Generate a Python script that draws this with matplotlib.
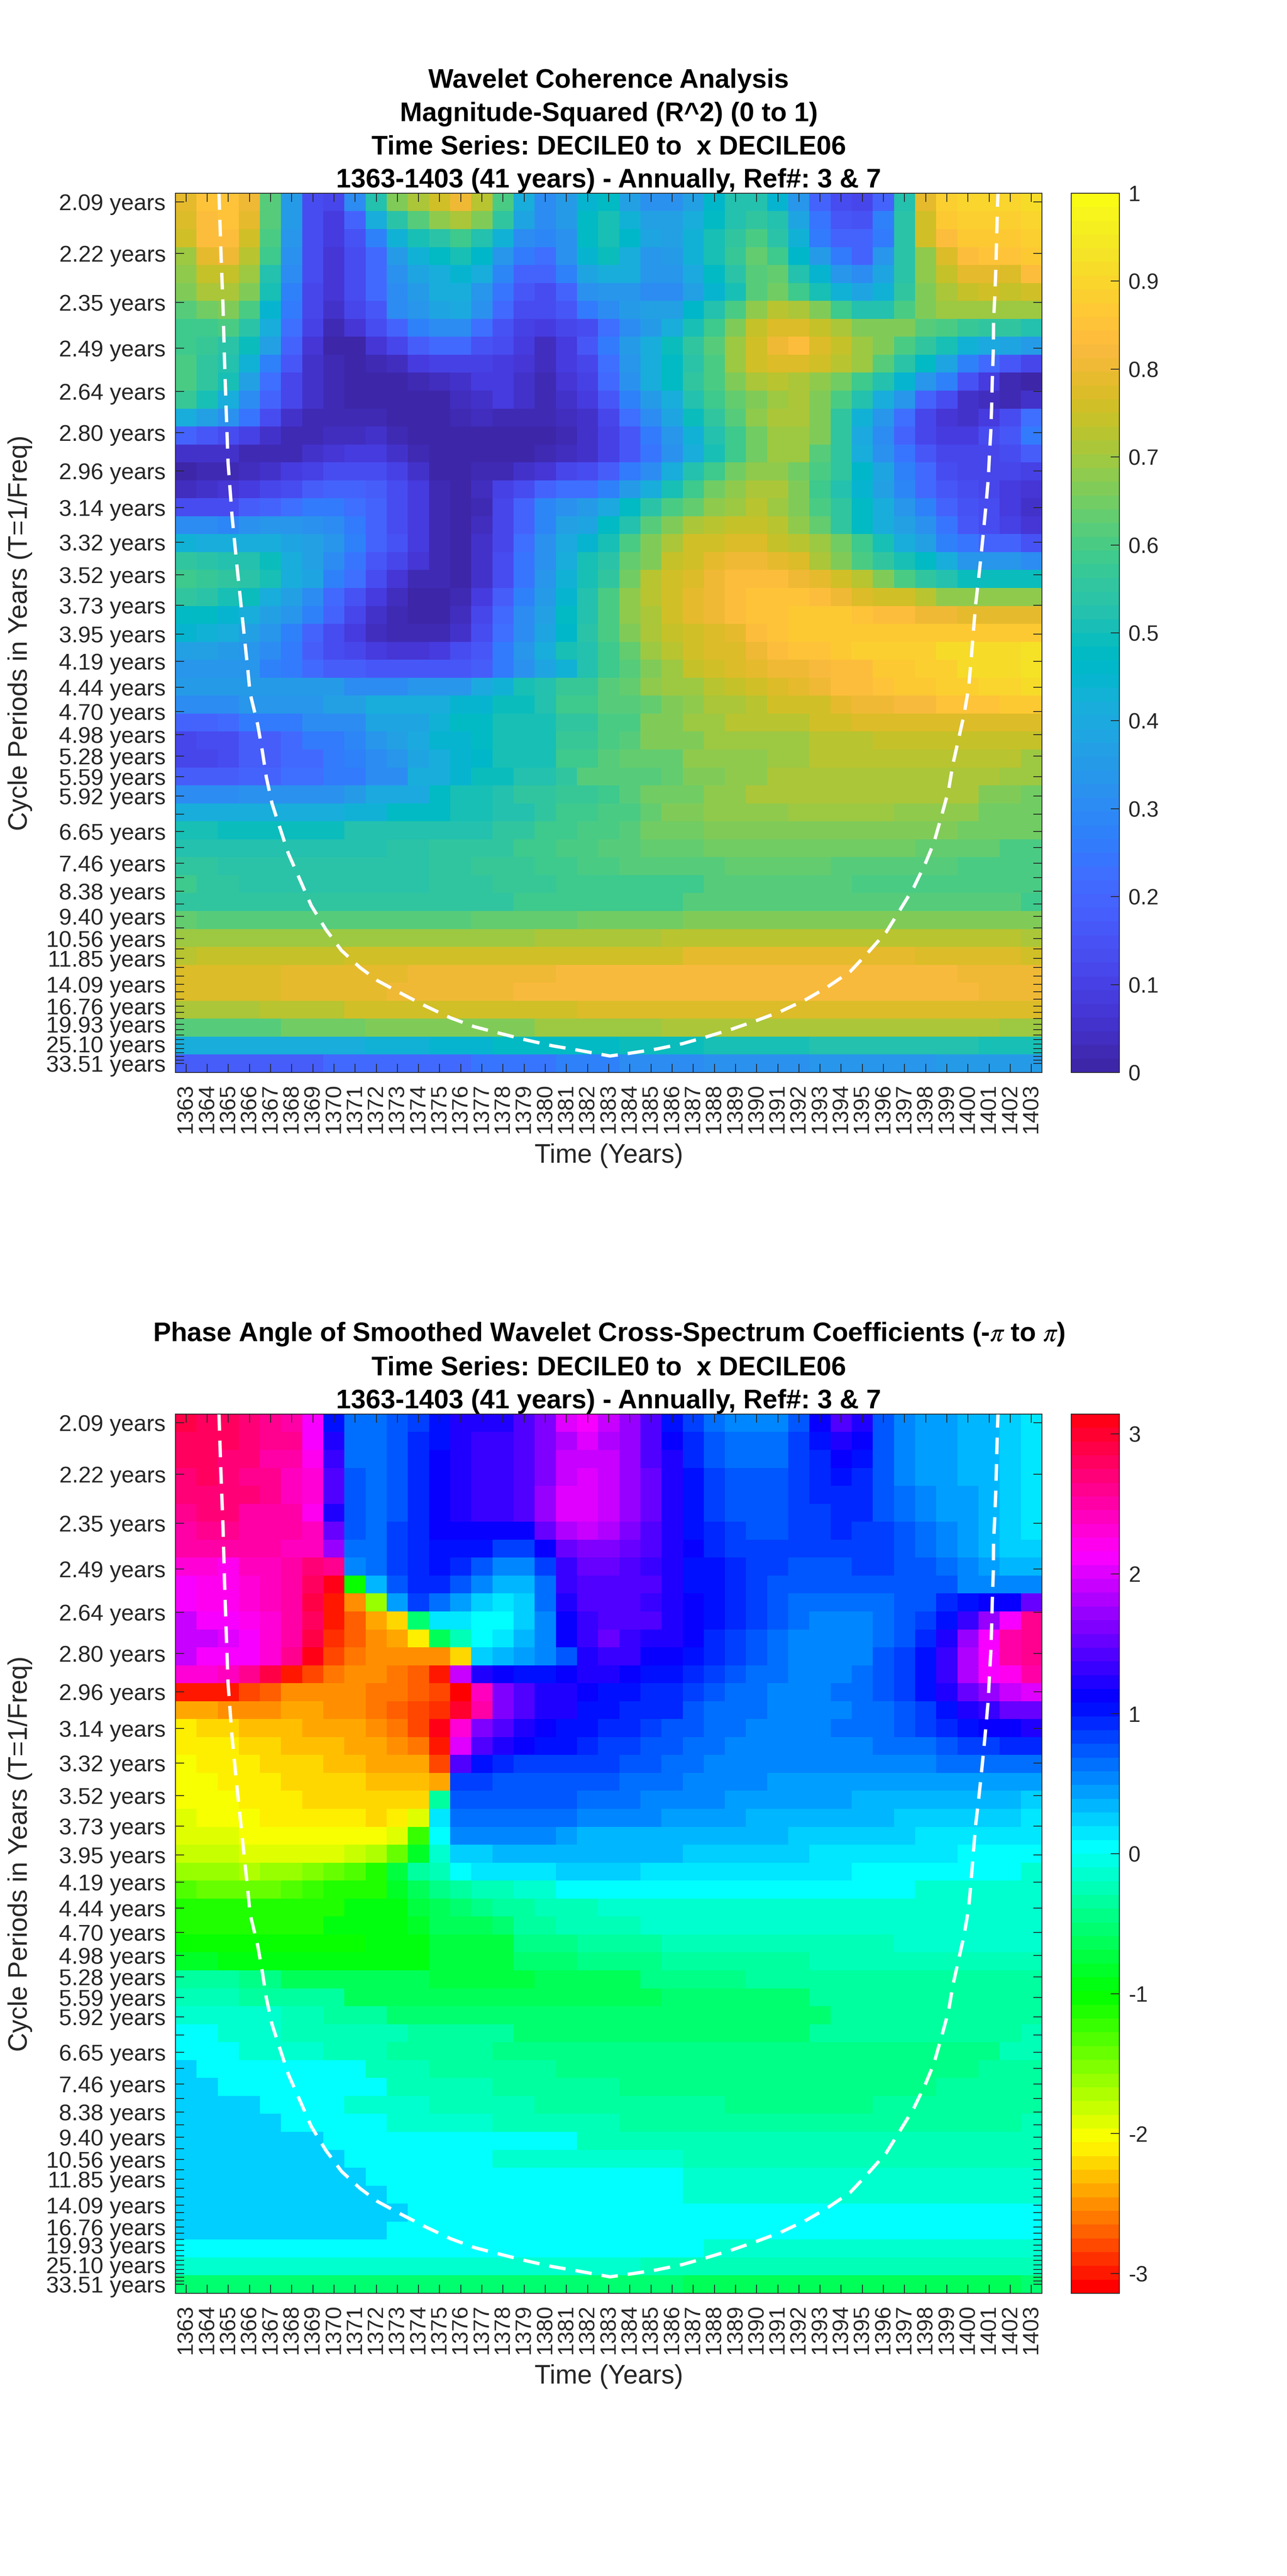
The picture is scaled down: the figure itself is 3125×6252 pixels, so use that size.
import numpy as np
import matplotlib
matplotlib.use("Agg")
import matplotlib.pyplot as plt
from matplotlib.colors import ListedColormap

plt.rcParams["font.family"] = ["Liberation Sans", "DejaVu Sans"]
plt.rcParams["mathtext.fontset"] = "stix"

DARK = "#262626"

years = list(range(1363, 1404))

# period of every scale, labelled ones get text below
periods = [2.094, 2.219, 2.351, 2.491, 2.639, 2.796, 2.962, 3.138, 3.325, 3.523,
           3.732, 3.954, 4.189, 4.438, 4.702, 4.981, 5.278, 5.592, 5.924, 6.276,
           6.650, 7.045, 7.464, 7.908, 8.378, 8.876, 9.404, 9.963, 10.556, 11.183,
           11.848, 12.552, 13.299, 14.090, 14.927, 15.815, 16.755, 17.752, 18.807,
           19.925, 21.110, 22.365, 23.695, 25.104, 26.597, 28.179, 29.855, 31.630,
           33.511]
period_labels = ["2.09", "2.22", "2.35", "2.49", "2.64", "2.80", "2.96", "3.14", "3.32",
                 "3.52", "3.73", "3.95", "4.19", "4.44", "4.70", "4.98", "5.28", "5.59",
                 "5.92", "", "6.65", "", "7.46", "", "8.38", "", "9.40", "", "10.56", "",
                 "11.85", "", "", "14.09", "", "", "16.76", "", "", "19.93", "", "", "",
                 "25.10", "", "", "", "", "33.51"]

# coherence in percent, one row per scale (top of the chart first)
coherence_pct = [
    [79,85,85,80,62,35,14,12,30,52,67,71,75,80,73,60,42,30,35,45,47,37,32,32,36,46,52,52,44,33,20,14,12,20,53,79,88,90,90,90,91],
    [77,83,85,79,62,35,14,9,20,42,54,62,68,71,67,55,38,30,35,47,50,43,37,36,41,47,53,55,52,39,24,17,15,28,54,76,87,89,89,89,90],
    [75,83,84,75,60,34,13,8,15,27,43,50,54,58,53,43,30,29,32,47,50,46,38,37,43,50,55,60,54,43,25,20,19,26,54,75,84,86,87,87,89],
    [70,79,80,73,58,32,13,7,13,21,35,43,47,51,46,34,25,22,32,44,49,42,34,35,43,50,57,63,58,46,35,25,20,33,54,68,78,83,85,85,87],
    [68,74,74,70,53,31,14,7,13,21,32,38,42,44,41,29,20,19,27,39,42,41,33,33,40,47,54,61,63,53,45,33,30,38,54,68,74,79,79,78,84],
    [67,71,71,66,50,27,12,7,13,21,30,35,41,41,33,24,16,14,19,32,33,33,30,30,36,44,50,61,65,59,50,43,38,43,56,67,71,74,75,74,76],
    [62,65,67,60,45,26,12,5,11,17,30,33,39,40,32,21,14,13,16,25,30,35,36,37,46,52,60,68,72,71,66,58,52,52,60,66,69,69,69,69,70],
    [59,59,60,54,41,22,10,3,7,14,20,27,30,30,22,15,10,8,11,14,22,30,35,42,50,58,66,74,77,77,74,71,66,66,66,62,60,57,55,55,52],
    [59,57,54,49,36,19,7,1,1,7,12,18,21,21,15,13,8,4,9,17,25,35,41,49,55,62,70,76,80,83,77,74,70,66,60,56,50,43,40,38,35],
    [60,56,53,43,28,16,6,3,1,3,4,9,10,10,10,9,7,4,8,12,23,33,41,47,54,60,69,75,78,78,76,72,69,62,54,47,38,28,21,17,11],
    [60,56,50,37,23,12,6,3,1,1,1,3,4,6,8,9,6,3,7,10,21,32,41,48,55,60,67,71,73,71,68,65,58,52,45,33,27,15,8,2,1],
    [57,50,42,31,20,11,5,3,1,1,0,0,0,4,6,8,5,2,6,9,17,28,35,42,53,58,63,67,69,71,66,60,53,42,33,19,13,6,4,3,5],
    [42,37,32,24,13,6,3,3,3,3,0,0,0,2,4,3,3,3,4,6,12,23,30,38,49,55,61,68,71,71,67,56,43,33,22,12,7,5,8,13,22],
    [19,17,14,10,5,3,2,4,4,5,3,1,0,0,1,1,1,1,2,6,10,16,26,34,43,52,58,65,69,69,66,56,40,30,20,12,8,8,13,16,26],
    [5,5,5,3,2,3,5,7,9,9,6,3,0,0,0,1,1,2,4,6,10,16,24,32,41,50,59,65,69,70,62,55,41,32,24,16,12,11,12,14,18],
    [1,3,3,4,5,8,10,13,14,14,10,6,1,0,2,3,6,7,11,13,18,25,31,41,53,58,65,68,68,65,60,55,46,38,28,21,14,12,12,11,10],
    [4,6,7,9,11,14,18,20,20,18,14,8,3,1,4,10,14,19,22,23,28,35,42,50,58,65,68,71,71,67,59,52,44,36,29,21,17,13,11,8,7],
    [13,13,14,18,19,22,25,26,23,19,13,8,3,0,3,11,19,29,32,35,40,47,54,60,64,68,70,72,69,66,60,55,47,42,34,28,20,15,14,8,6],
    [30,30,29,32,33,33,32,31,25,19,13,9,3,0,4,11,20,29,36,39,47,53,61,67,71,73,74,74,72,68,63,56,47,42,36,32,24,17,13,10,7],
    [43,42,42,41,41,38,36,33,27,20,15,8,2,0,5,12,22,32,40,44,50,60,66,71,75,76,77,77,74,72,70,65,58,50,42,36,28,24,19,19,15],
    [55,54,53,52,49,41,37,30,24,17,12,7,2,0,5,14,24,32,42,50,54,63,67,74,76,79,80,81,79,77,71,67,60,56,51,47,42,33,33,33,31],
    [59,57,55,54,50,41,38,28,22,13,7,2,2,1,6,14,24,33,43,50,55,65,72,75,78,80,84,84,84,81,79,76,72,66,60,56,53,49,49,49,49],
    [55,54,51,49,42,36,30,21,15,9,4,0,0,3,8,18,27,35,44,53,60,68,72,75,79,81,84,85,85,85,83,80,78,75,75,72,68,68,68,68,68],
    [48,48,44,42,37,34,27,20,12,6,2,0,0,4,11,21,30,37,48,53,60,68,71,75,79,81,84,85,85,86,86,86,85,83,83,80,80,79,79,79,79],
    [44,43,42,36,33,28,20,14,9,4,2,2,2,6,14,22,31,39,46,54,60,66,71,74,76,78,79,83,85,86,87,87,87,87,87,87,87,87,87,87,87],
    [37,36,35,34,30,25,18,14,11,9,7,7,9,13,17,25,33,41,50,53,58,63,69,72,75,77,78,81,83,85,85,86,88,88,89,89,91,91,92,92,93],
    [34,34,34,33,27,25,21,18,18,17,17,16,16,17,18,25,32,39,43,52,58,62,67,70,74,76,78,79,80,80,82,84,84,87,87,89,89,91,92,92,93],
    [35]*8+[31]*3+[33]*3+[40,43,50,52,57,57,62,63,68,70,70,72,74,75,77,79,81,83,83,85,87,87,89,89,90,90,92],
    [30,30,31,34,34,34,34,37,37,41,41,41,41,45,45,49,49,52,58,58,61,61,64,66,68,71,71,73,76,76,76,79,81,81,82,82,85,85,85,86,86],
    [20]*2+[21]+[25]*3+[31]*3+[39]*3+[43]+[47]*2+[51]*3+[56]*2+[60]*2+[66]*2+[69]*2+[72]*3+[73]+[76]*2+[77]*3+[78]*6,
    [12,13,14,18,18,21,25,25,29,33,37,40,44,44,47]+[51]*3+[57]*2+[60,62]+[66]*3+[70]*5+[72]*3+[74]*8,
    [12,12,14,18,18,21,21,25,27,31,34,38,41,44,46]+[50]*3+[58]*2+[62]+[64]*3+[68]*4+[70]*2+[72]*10+[70],
    [18]*3+[20]*2+[23]*2+[26]*2+[30]*2+[41]*2+[44]+[49]*2+[53]*2+[56]+[62]*4+[64]+[66]*2+[68]*2+[71]*11+[69]*2,
    [30]*3+[32]*5+[35]+[40]*3+[48]+[50]*2+[53]+[55]*2+[57]*2+[59,61]+[65]*3+[68]*2+[71]*11+[67]*2+[65],
    [41]*2+[42]*3+[41]*3+[43]*2+[47]*3+[50]*2+[53]*2+[56]+[58]*2+[60]*2+[64]+[66]*2+[68]*4+[70]*5+[68]*4+[65]*3,
    [50]*2+[49]*6+[52]*7+[56]*2+[58]*2+[60]*2+[62]+[65]*3+[67]*12+[65]*4,
    [53]*3+[52]*7+[54]*2+[55]*4+[58]*2+[60]*2+[61]*2+[63]*3+[65]*10+[63]*4+[60]*2,
    [56]*2+[54]*10+[55]*2+[57]*3+[58]*2+[60]*2+[62]*5+[63]*5+[62]*6+[60]*4,
    [58]+[56]*2+[54]*9+[55]*3+[57]*3+[58]*2+[59]*5+[61]*7+[60]*9,
    [56]*4+[55]*8+[56]*4+[58]*3+[59]*5+[61]*16+[59],
    [63]+[62]*13+[63]*5+[65]*5+[67]*17,
    [69]*8+[70]*9+[71]*6+[73]*17+[71],
    [72]+[74]*7+[75]*7+[76]*9+[79]*11+[77]*5+[75],
    [77]*5+[79]*6+[80]*7+[82]*19+[80]*4,
    [77]*5+[79]*5+[80]*6+[82]*22+[80]*3,
    [71]*4+[72]*4+[75]*5+[76]*6+[78]*18+[77]*4,
    [62]*5+[65]*4+[66]*4+[67]*4+[69]*6+[71]*16+[69]*2,
    [41]*9+[43]*3+[44]*3+[47]*6+[49]*4+[51]*5+[53]*8+[50]*3,
    [18]*7+[21]*7+[24]*4+[27]*3+[30]*4+[32]*5+[34]*6+[35]*5,
]

# phase angle in tenths of a radian
phase_tenths = [
    [29,28,28,27,26,25,21,10,6,6,7,8,10,12,12,12,14,16,20,21,19,17,14,10,8,6,5,5,5,7,11,14,12,7,5,4,4,3,3,2,1],
    [28,28,28,27,26,26,21,12,6,6,7,9,10,12,13,13,14,16,18,20,18,17,14,11,9,7,6,6,6,8,10,12,11,7,5,4,4,3,3,2,1],
    [28,28,27,27,25,25,22,13,6,6,7,9,11,12,13,13,14,16,19,19,19,17,14,12,9,7,6,6,6,8,9,11,10,7,5,4,4,3,3,2,1],
    [27,28,27,26,26,24,23,14,7,6,7,9,11,12,13,13,14,16,19,20,19,17,15,12,10,8,7,7,7,8,9,10,9,7,5,4,4,3,3,2,1],
    [27,27,27,27,26,24,23,14,7,6,7,9,11,12,13,13,14,17,20,20,19,17,15,12,10,8,7,7,7,8,9,9,9,7,6,5,4,4,3,2,1],
    [26,27,27,25,25,25,22,12,7,6,7,9,11,12,13,13,14,17,20,20,19,17,15,12,10,8,7,7,7,8,8,9,9,7,6,5,4,4,3,2,1],
    [25,26,26,25,25,25,24,15,7,6,8,9,11,11,11,11,11,15,18,19,18,16,14,12,10,9,8,7,7,8,8,9,8,8,7,6,5,4,3,2,1],
    [25,25,25,25,25,24,24,17,6,6,8,9,10,10,10,8,8,11,15,16,16,15,14,12,11,9,8,8,8,8,8,8,8,8,7,6,5,4,3,2,2],
    [23,23,22,24,24,25,27,26,5,6,8,9,10,9,7,5,5,8,13,15,15,14,13,12,10,10,9,8,8,7,7,7,8,8,7,7,6,5,4,3,3],
    [21,22,22,23,24,25,28,31,-10,3,7,9,9,7,5,3,3,6,13,14,14,14,14,12,10,10,9,8,7,7,7,7,7,7,7,7,7,5,5,5,5],
    [21,22,22,23,24,25,29,-30,-25,-16,4,8,6,4,2,1,2,6,12,14,14,14,13,12,11,10,9,8,7,6,6,6,6,6,7,7,9,10,11,11,15],
    [19,21,21,22,23,25,28,-30,-27,-24,-22,-5,1,1,0,0,2,5,11,13,14,14,14,12,11,10,9,8,7,6,5,5,5,6,7,8,10,13,17,21,26],
    [19,19,20,21,23,25,29,-29,-27,-25,-24,-21,-6,-2,0,1,3,5,11,13,15,13,12,12,11,9,8,7,6,5,5,5,5,6,7,9,12,17,21,25,26],
    [19,21,21,21,23,26,31,-28,-26,-25,-25,-25,-25,-22,2,3,4,5,7,12,13,13,11,11,10,9,8,7,6,5,5,5,5,7,8,10,13,18,21,25,26],
    [23,23,24,26,29,-30,-28,-26,-25,-25,-26,-27,-30,19,12,11,10,10,11,12,12,11,10,10,9,8,7,6,6,5,5,5,6,7,8,10,13,18,21,22,25],
    [-30,-30,-30,-28,-27,-25,-25,-25,-25,-26,-26,-27,-28,-31,24,16,14,12,12,11,10,10,9,9,8,7,6,6,5,5,5,6,6,7,8,10,12,15,17,19,20],
    [-24,-24,-25,-25,-25,-24,-24,-25,-25,-26,-27,-28,-29,30,25,16,14,12,12,10,10,9,9,9,7,6,6,6,5,5,5,5,6,6,7,8,10,12,13,15,15],
    [-21,-22,-22,-23,-23,-23,-24,-24,-24,-25,-26,-28,31,23,16,14,12,11,10,10,9,9,8,7,7,6,6,5,5,5,5,6,6,6,7,8,9,10,11,11,12],
    [-21,-21,-21,-22,-22,-23,-23,-23,-24,-24,-25,-26,-30,20,14,12,11,10,10,9,8,8,7,7,6,6,5,5,5,5,5,5,5,6,6,6,7,8,8,9,9],
    [-20,-21,-21,-21,-22,-22,-22,-23,-23,-24,-24,-24,-28,14,10,9,8,8,8,8,8,7,7,6,6,5,5,5,5,5,5,5,5,5,5,5,6,6,6,6,6],
    [-20,-20,-21,-21,-21,-22,-22,-22,-22,-23,-23,-23,-24,8,8,7,7,7,7,7,7,6,6,6,5,5,5,5]+[4]*13,
    [-20,-20,-20,-21,-21,-21,-22,-22,-22,-22,-22,-22,-3,7,7,7,7,7,7,6,6,6,5,5,5,5,4,4,4,4,4,4]+[3]*8+[2],
    [-19,-20,-20,-20,-21,-21,-21,-21,-21,-22,-21,-19,1,6,6,6,6,6,6]+[5]*4+[4]*4+[3]*7+[2]*6+[1],
    [-19,-19,-19,-20,-20,-20,-20,-20,-20,-20,-19,-12,0,5,5,5,5,5,4]+[3]*10+[2]*6+[1]*6,
    [-18,-18,-18,-19,-19,-19,-19,-19,-18,-17,-14,-8,-1,2,2,3,3,3,3]+[3]*5+[2]*6+[1]*7+[0]*4,
    [-16,-16,-16,-17,-16,-16,-15,-14,-13,-11,-7,-3,-2,0,1,1,1,1,2]+[2]*3+[1]*10+[0]*8+[-1],
    [-13,-14,-14,-14,-14,-13,-12,-11,-11,-11,-8,-6,-4,-3,-2,-2,-1,-1,0]+[0]*16+[-1]*6,
    [-11]*8+[-9]*3+[-7,-6,-5,-4,-3,-3,-2,-2,-2]+[-1]*21,
    [-11]*7+[-9]*4+[-8]+[-6]*3+[-5]+[-3]*2+[-2]*4+[-1]*19,
    [-10]*9+[-9]*3+[-7]*4+[-4]*3+[-3]*4+[-2]*11+[-1]*7,
    [-8]*2+[-9]*10+[-7]*4+[-5]*3+[-4]*4+[-3]*7+[-2]*11,
    [-3]*3+[-4]*2+[-6]*7+[-7]*5+[-6]*5+[-4]*5+[-3]*14,
    [-2]*3+[-3]*5+[-6]*15+[-5]*7+[-3]*11,
    [-1]*5+[-2]*2+[-3]*3+[-5]*21+[-3]*10,
    [0]*2+[-1]*3+[-2]*6+[-3]*5+[-5]*14+[-3]*10+[-2],
    [0]*3+[-1]*4+[-2]*3+[-3]*5+[-4]*24+[-2]*2,
    [2]+[0]*8+[-2]*3+[-3]*6+[-4]*20+[-3]*3,
    [2]*2+[0]*8+[-2]*5+[-3]*6+[-4]*15+[-3]*5,
    [2]*4+[0]*4+[-1]*4+[-2]*5+[-3]*9+[-4]*7+[-3]*8,
    [2]*5+[0]*5+[-1]*5+[-2]*6+[-3]*19+[-2],
    [2]*7+[0]*12+[-2]*22,
    [2]*8+[0]*7+[-1]*9+[-2]*17,
    [2]*9+[0]*15+[-1]*17,
    [2]*10+[0]*14+[-1]*17,
    [2]*11+[0]*30,
    [2]*10+[0]*31,
    [0]*25+[-1]*16,
    [-1]*22+[-2]*19,
    [-5]*24+[-6]*16+[-5],
]

# cone of influence: year and frequency (1/years)
coi_years = [1364.56, 1364.66, 1364.75, 1364.82, 1364.90, 1364.99, 1365.18, 1365.43, 1365.68,
             1365.93, 1366.03, 1366.39, 1366.61, 1366.80, 1367.07, 1367.43, 1367.84, 1368.39,
             1368.93, 1369.62, 1370.36, 1371.23, 1372.07, 1373.22, 1374.31, 1375.50, 1376.65,
             1377.88, 1379.11, 1380.34, 1381.57, 1383.06, 1384.03, 1385.26, 1386.49, 1387.58,
             1388.81, 1390.04, 1391.13, 1392.36, 1393.33, 1394.43, 1395.25, 1396.13, 1396.75,
             1397.43, 1397.98, 1398.39, 1398.74, 1399.08, 1399.29, 1399.54, 1399.82, 1400.03,
             1400.13, 1400.25, 1400.36, 1400.50, 1400.61, 1400.73, 1400.85, 1400.96, 1401.02,
             1401.08, 1401.12, 1401.15, 1401.20, 1401.21, 1401.27, 1401.32, 1401.40, 1401.42]
coi_freq = [.4820, .4492, .4238, .3959, .3698, .3420, .3141, .2863, .2600,
            .2339, .2223, .2060, .1923, .1786, .1649, .1527, .1390, .1253,
            .1118, .0994, .0885, .0797, .0728, .0660, .0598, .0536, .0489,
            .0454, .0420, .0390, .0367, .0337, .0352, .0373, .0401, .0435,
            .0476, .0523, .0568, .0632, .0694, .0776, .0872, .0981, .1090,
            .1212, .1337, .1446, .1581, .1718, .1855, .1977, .2114, .2251,
            .2371, .2535, .2681, .2814, .2927, .3058, .3197, .3336, .3469,
            .3583, .3713, .3846, .4009, .4156, .4287, .4435, .4762, .4820]

title_top = ("Wavelet Coherence Analysis\nMagnitude-Squared (R^2) (0 to 1)\n"
             "Time Series: DECILE0 to  x DECILE06\n1363-1403 (41 years) - Annually, Ref#: 3 & 7")
title_bottom = ("Phase Angle of Smoothed Wavelet Cross-Spectrum Coefficients (-$\\pi$ to $\\pi$)\n"
                "Time Series: DECILE0 to  x DECILE06\n1363-1403 (41 years) - Annually, Ref#: 3 & 7")

# MATLAB parula, 64 levels
parula = ListedColormap([
    (.2422,.1504,.6603),(.2504,.1650,.7076),(.2578,.1818,.7511),(.2647,.1978,.7952),
    (.2706,.2147,.8364),(.2751,.2342,.8710),(.2783,.2559,.8991),(.2803,.2782,.9221),
    (.2813,.3006,.9414),(.2810,.3228,.9579),(.2795,.3447,.9717),(.2760,.3667,.9829),
    (.2699,.3892,.9906),(.2602,.4123,.9952),(.2440,.4358,.9988),(.2206,.4603,.9973),
    (.1963,.4847,.9892),(.1834,.5074,.9798),(.1786,.5289,.9682),(.1764,.5499,.9520),
    (.1687,.5703,.9359),(.1540,.5902,.9218),(.1460,.6091,.9079),(.1380,.6276,.8973),
    (.1248,.6459,.8883),(.1113,.6635,.8763),(.0952,.6798,.8598),(.0689,.6948,.8394),
    (.0297,.7082,.8163),(.0036,.7203,.7917),(.0067,.7312,.7660),(.0433,.7411,.7394),
    (.0964,.7500,.7120),(.1408,.7584,.6842),(.1717,.7670,.6554),(.1938,.7758,.6251),
    (.2161,.7843,.5923),(.2470,.7918,.5567),(.2906,.7973,.5188),(.3406,.8008,.4789),
    (.3909,.8029,.4354),(.4456,.8024,.3909),(.5044,.7993,.3480),(.5616,.7942,.3045),
    (.6174,.7876,.2612),(.6720,.7793,.2227),(.7242,.7698,.1910),(.7738,.7598,.1646),
    (.8203,.7498,.1535),(.8634,.7406,.1596),(.9035,.7330,.1774),(.9393,.7288,.2100),
    (.9728,.7298,.2394),(.9956,.7434,.2371),(.9970,.7659,.2199),(.9952,.7893,.2028),
    (.9892,.8136,.1885),(.9786,.8386,.1766),(.9676,.8639,.1643),(.9610,.8890,.1537),
    (.9597,.9135,.1423),(.9628,.9373,.1265),(.9691,.9606,.1064),(.9769,.9839,.0805)])
hsv64 = matplotlib.colormaps["hsv"].resampled(64)

FIG_W, FIG_H = 3125, 6252
FREQ_TOP, FREQ_BOTTOM = 0.4820, 0.02513
TICK_LEN = 15


def px_box(left, top, right, bottom):
    return [left / FIG_W, 1 - bottom / FIG_H, (right - left) / FIG_W, (bottom - top) / FIG_H]


def draw_panel(fig, top, values, cmap, vmin, vmax, title, cticks, clabels):
    ax = fig.add_axes(px_box(426, top, 2530, top + 2134))
    im = ax.imshow(values, cmap=cmap, vmin=vmin, vmax=vmax, aspect="auto",
                   interpolation="nearest", origin="upper",
                   extent=[years[0] - .5, years[-1] + .5, FREQ_BOTTOM, FREQ_TOP])
    ax.plot(coi_years, coi_freq, color="white", lw=5.8, ls=(0, (5, 3)),
            dash_capstyle="butt", solid_joinstyle="round")
    ax.set_xlim(years[0] - .5, years[-1] + .5)
    ax.set_ylim(FREQ_BOTTOM, FREQ_TOP)

    ax.set_xticks(years)
    ax.set_xticklabels([str(y) for y in years], rotation=90, fontsize=39, color=DARK)
    ax.set_yticks([1 / p for p in periods])
    ax.set_yticklabels([s + " years" if s else "" for s in period_labels], fontsize=40, color=DARK)
    ax.tick_params(axis="both", direction="in", length=TICK_LEN, width=1.5, color=DARK,
                   top=True, right=True)
    ax.tick_params(axis="x", pad=19)
    ax.tick_params(axis="y", pad=17)
    for s in ax.spines.values():
        s.set_linewidth(1.5)
        s.set_color(DARK)

    ax.set_xlabel("Time (Years)", fontsize=46, color=DARK, va="top")
    ax.xaxis.set_label_coords(0.5, -0.0806)
    ax.set_ylabel("Cycle Periods in Years (T=1/Freq)", fontsize=46, color=DARK)
    ax.yaxis.set_label_coords(-0.165, 0.5)
    ax.set_title(title, fontsize=46.5, fontweight="bold", color="black", pad=10, linespacing=1.44)

    cax = fig.add_axes(px_box(2601, top, 2718, top + 2134))
    cb = fig.colorbar(im, cax=cax)
    cb.set_ticks(cticks)
    cb.set_ticklabels(clabels)
    cb.ax.tick_params(direction="in", length=TICK_LEN, width=1.5, color=DARK,
                      labelsize=38, labelcolor=DARK, pad=16)
    cb.outline.set_linewidth(1.5)
    cb.outline.set_edgecolor(DARK)


fig = plt.figure(figsize=(FIG_W / 100, FIG_H / 100), dpi=100, facecolor="white")

draw_panel(fig, 469, np.array(coherence_pct) / 100, parula, 0, 1, title_top,
           [0, .1, .2, .3, .4, .5, .6, .7, .8, .9, 1],
           ["0", "0.1", "0.2", "0.3", "0.4", "0.5", "0.6", "0.7", "0.8", "0.9", "1"])
draw_panel(fig, 3432, np.array(phase_tenths) / 10, hsv64, -np.pi, np.pi, title_bottom,
           [-3, -2, -1, 0, 1, 2, 3], ["-3", "-2", "-1", "0", "1", "2", "3"])

fig.savefig("out.png", dpi=100)
